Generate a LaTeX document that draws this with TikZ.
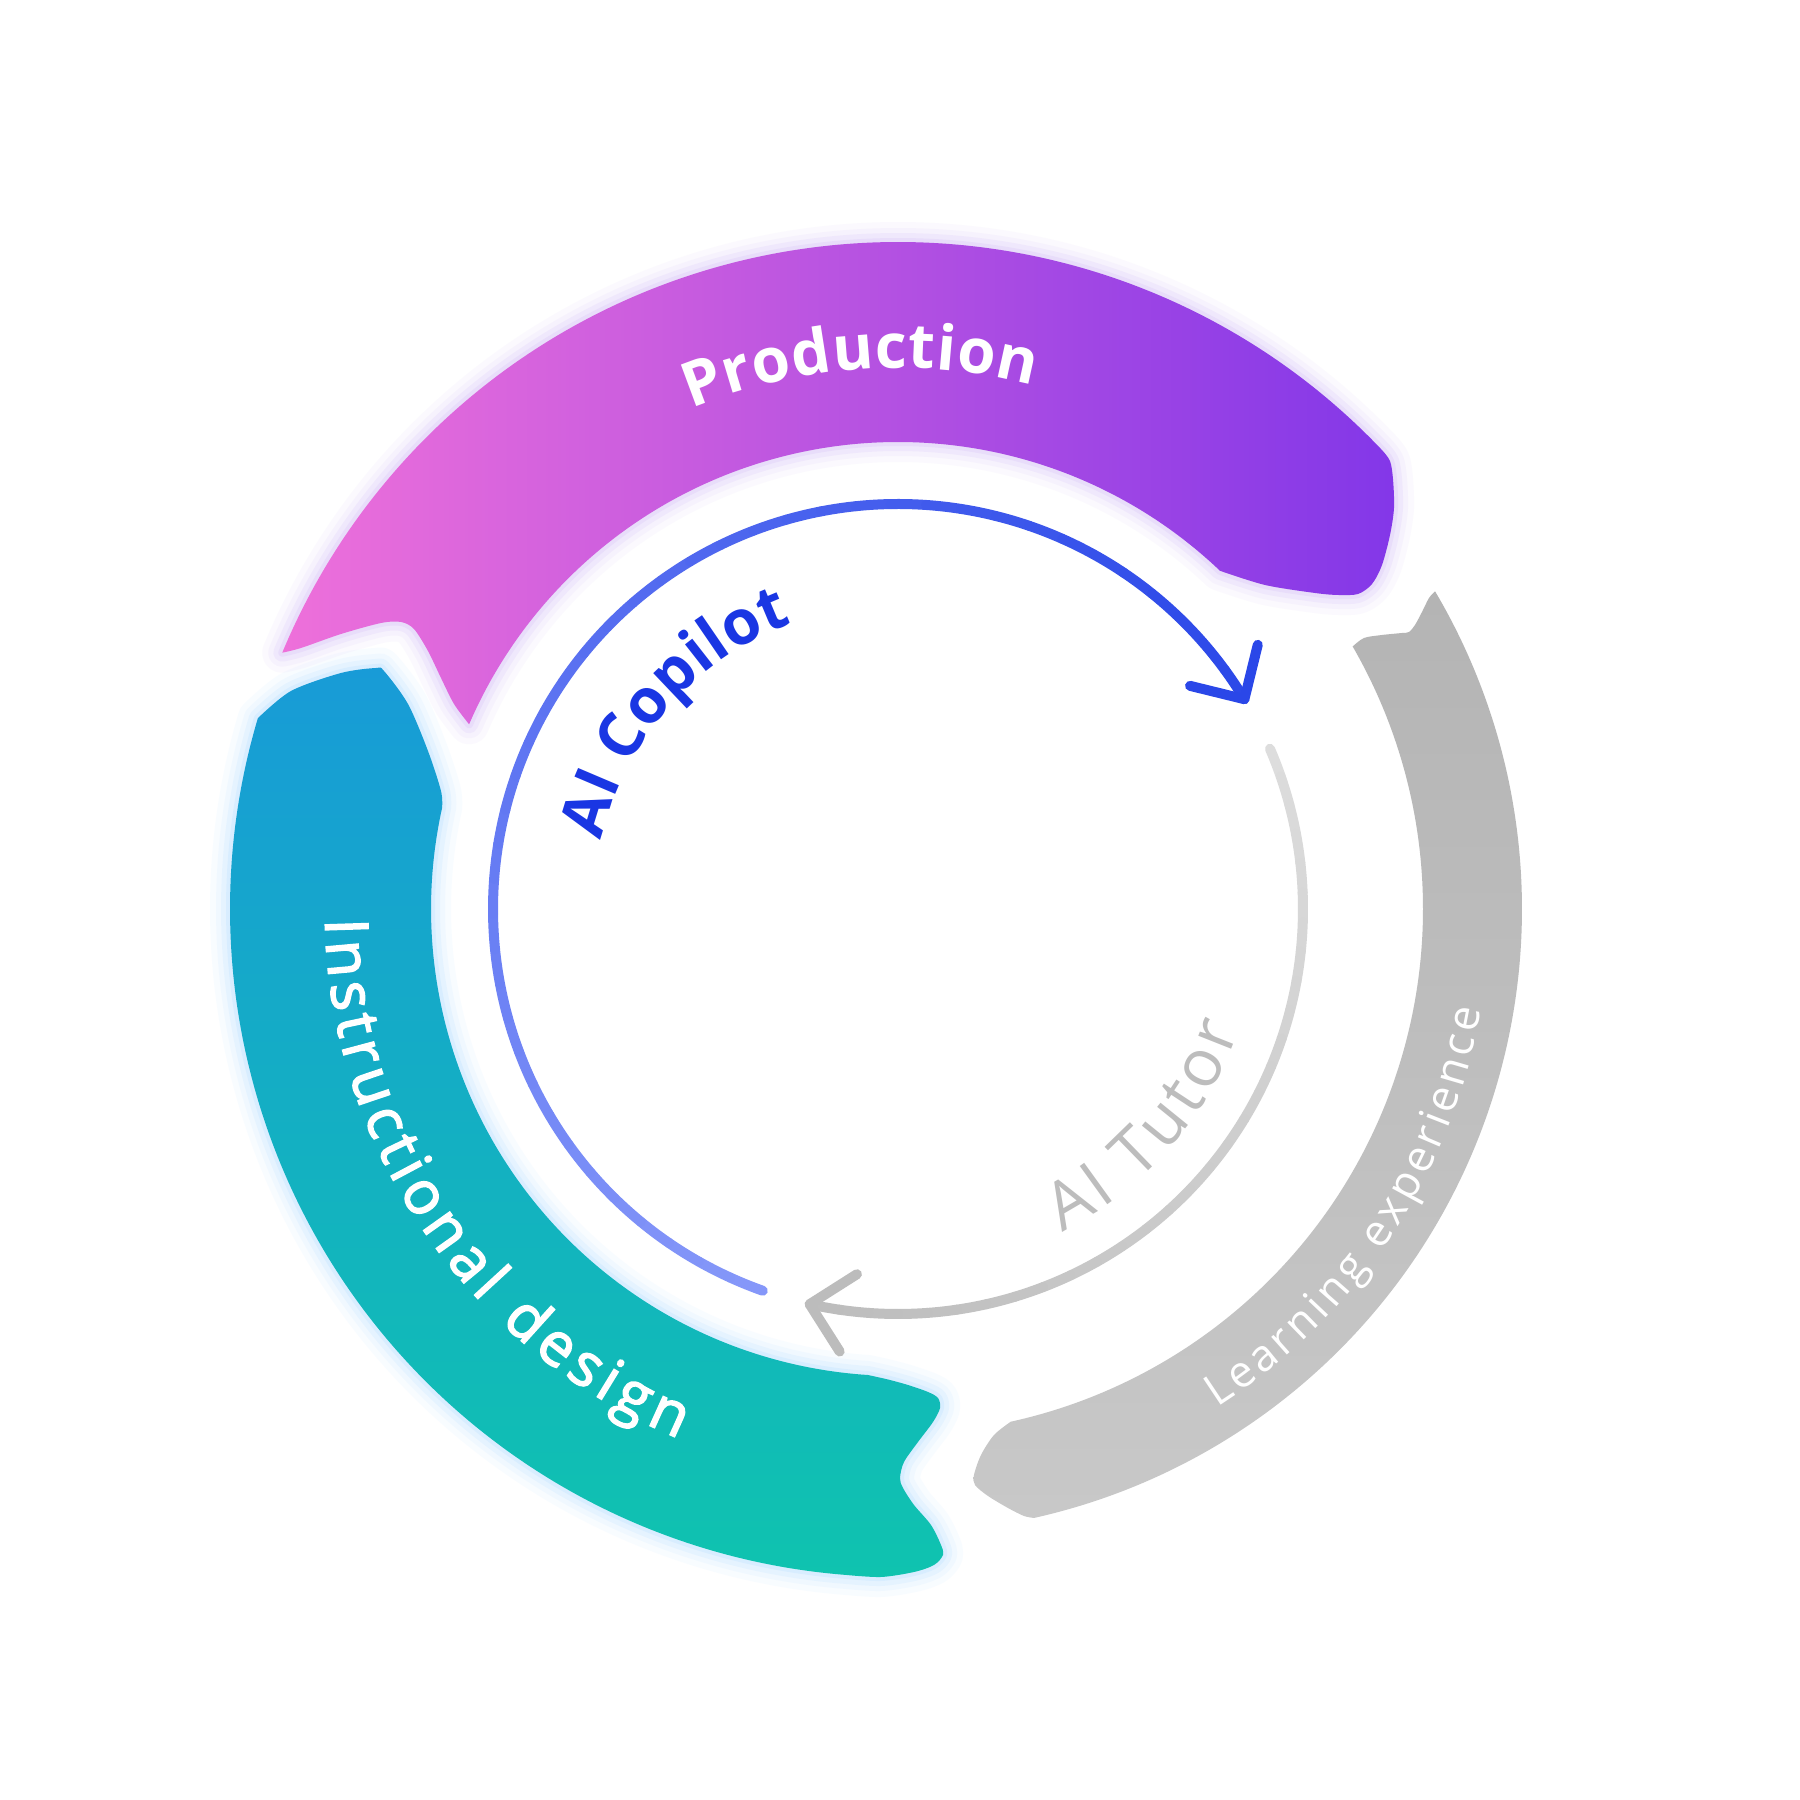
\documentclass[tikz,border=0pt]{standalone}
\usepackage{fontspec}
\setmainfont{Open Sans}
\newfontfamily\medfont{Open Sans}[FakeBold=2.5]
\usetikzlibrary{decorations.text}
\definecolor{prodL}{HTML}{EE70DA}
\definecolor{prodR}{HTML}{8337E8}
\definecolor{instT}{HTML}{189BD7}
\definecolor{instB}{HTML}{0FC3AF}
\definecolor{leT}{HTML}{B4B4B4}
\definecolor{leB}{HTML}{C8C8C8}
\definecolor{blueL}{HTML}{8698F9}
\definecolor{blueD}{HTML}{2A47E8}
\definecolor{grayL}{HTML}{DDDDDD}
\definecolor{grayD}{HTML}{BCBCBC}
\definecolor{copilotc}{HTML}{1A36E3}
\definecolor{tutorc}{HTML}{BDBDBD}
\definecolor{glowPc}{HTML}{C4A4F5}
\definecolor{glowBc}{HTML}{98D2FF}
\begin{document}
\begin{tikzpicture}[x=1pt,y=1pt,
  glowP/.style={
    preaction={draw=glowPc,line width=40,opacity=.06,line join=round},
    preaction={draw=glowPc,line width=28,opacity=.08,line join=round},
    preaction={draw=glowPc,line width=18,opacity=.12,line join=round},
    preaction={draw=glowPc,line width=8,opacity=.16,line join=round}},
  glowB/.style={
    preaction={draw=glowBc,line width=40,opacity=.06,line join=round},
    preaction={draw=glowBc,line width=28,opacity=.08,line join=round},
    preaction={draw=glowBc,line width=18,opacity=.12,line join=round},
    preaction={draw=glowBc,line width=8,opacity=.16,line join=round}},
  ringline/.style={line width=10,line cap=round,line join=round},
  bandtext/.style={decorate,decoration={text along path,text color=white,text align=fit to path,text={#1}}},
  ringtext/.style 2 args={decorate,decoration={text along path,text color=#1,text align=fit to path,text={#2}}}
]
\fill[white] (0,0) rectangle (1800,1800);
\begin{scope}[shift={(898,891)}]
\coordinate (C) at (0,0);
% Production band
\shade[glowP,left color=prodL,right color=prodR]
 (157.4:667) arc[start angle=157.4,end angle=43.5,radius=667]
 -- plot[smooth] coordinates {(43.5:667) (492,448) (495,430) (496,401) (492,374) (484,344) (474,325) (460,315) (440,314) (417,316) (367,324) (46.4:467)}
 arc[start angle=46.4,end angle=156.7,radius=467]
 -- plot[smooth] coordinates {(156.7:467) (-444,205) (-457,231) (-470,258) (-484,280) (-497,287) (-517,286) (-557,275) (-597,261) (157.4:667)}
 -- cycle;
% Instructional design band
\shade[glowB,top color=instT,bottom color=instB]
 (163.4:668) arc[start angle=163.4,end angle=265.5,radius=668]
 -- plot[smooth] coordinates {(265.5:668) (-17,-668) (16,-663) (36,-656) (45,-646) (43,-636) (33,-616) (16,-596) (5,-579) (2,-569) (6,-553) (20,-533) (35,-513) (42,-499) (40,-489) (30,-483) (10,-476) (-10,-470.5) (266.3:467)}
 arc[start angle=266.3,end angle=167.5,radius=467]
 -- plot[smooth] coordinates {(167.5:467) (-457,118) (-470,158) (-490,205) (-514,238) (-522,241) (-557,236) (-607,218) (163.4:668)}
 -- cycle;
% Learning experience band
\shade[top color=leT,bottom color=leB]
 (30.6:624) -- plot[smooth] coordinates {(30.6:624) (531,311) (524,297) (517,284) (511,277) (504,276) (484,274) (466,271) (30:525)}
 arc[start angle=30,end angle=-77.6,radius=525]
 -- plot[smooth] coordinates {(-77.6:525) (96,-526) (83,-546) (76,-566) (77,-576) (90,-587) (110,-599) (126,-607) (-77.4:624)}
 arc[start angle=-77.4,end angle=30.6,radius=624] -- cycle;
% band labels
\path[bandtext={|\fontsize{62}{70}\selectfont\bfseries|Production}]
 (112.4:541) arc[start angle=112.4,end angle=75.5,radius=541];
\path[bandtext={|\fontsize{60}{70}\selectfont\medfont|Instructional design}]
 (181:573) arc[start angle=181,end angle=247.5,radius=573];
\path[bandtext={|\fontsize{44}{54}\selectfont|Learning experience}]
 (-57.4:592) arc[start angle=-57.4,end angle=-9.8,radius=592];
% AI Copilot ring (blue, gradient)
\foreach \i in {0,...,43}{
  \pgfmathsetmacro\a{250.5-\i*(219.3/44)}
  \pgfmathsetmacro\b{250.5-(\i+1)*(219.3/44)}
  \pgfmathtruncatemacro\p{100*(\i+0.5)/44}
  \draw[ringline,draw=blueD!\p!blueL] (\a:405) arc[start angle=\a,end angle=\b,radius=405];
}
\coordinate (btip) at (31.2:405);
\draw[ringline,blueD] (btip) ++(76.2:56) -- (btip) -- ++(166.2:56);
% AI Tutor ring (gray, gradient)
\foreach \i in {0,...,29}{
  \pgfmathsetmacro\a{23.3-\i*(125.9/30)}
  \pgfmathsetmacro\b{23.3-(\i+1)*(125.9/30)}
  \pgfmathtruncatemacro\p{100*(\i+0.5)/30}
  \draw[ringline,draw=grayD!\p!grayL] (\a:405) arc[start angle=\a,end angle=\b,radius=405];
}
\coordinate (gtip) at (-102.6:405);
\draw[ringline,grayD] (gtip) ++(32.4:56) -- (gtip) -- ++(-57.6:56);
% ring labels
\path[ringtext={copilotc}{|\fontsize{62}{70}\selectfont\bfseries|AI Copilot}]
 (167:305) arc[start angle=167,end angle=110.3,radius=305];
\path[ringtext={tutorc}{|\fontsize{66}{76}\selectfont|AI Tutor}]
 (-63:362) arc[start angle=-63,end angle=-19.5,radius=362];
\end{scope}
\end{tikzpicture}
\end{document}
